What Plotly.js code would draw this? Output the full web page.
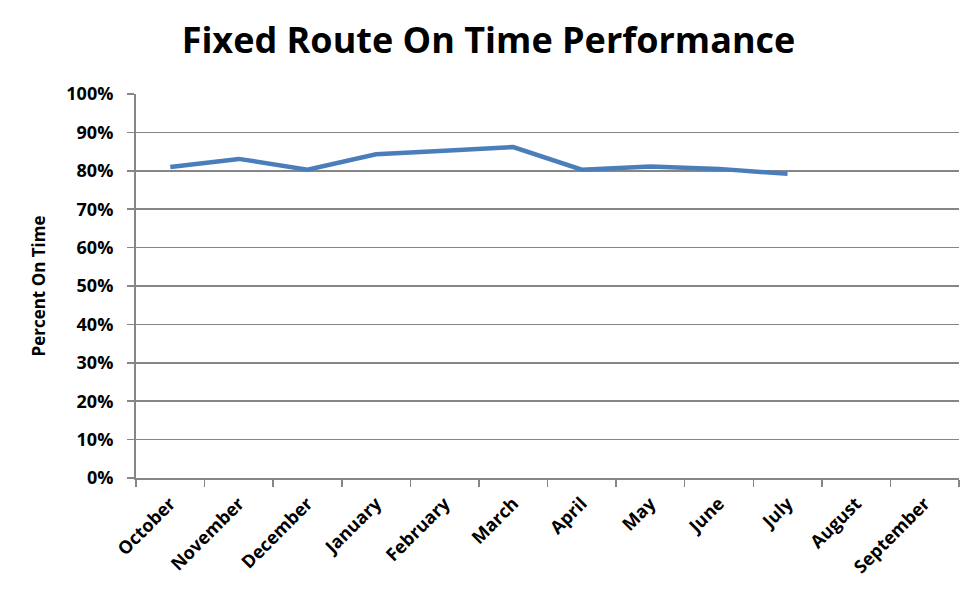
<!DOCTYPE html>
<html>
<head>
<meta charset="utf-8">
<script src="https://cdn.plot.ly/plotly-3.0.1.min.js"></script>
<style>
  html, body { margin: 0; padding: 0; background: #fff; }
  #chart { width: 977px; height: 599px; }
</style>
</head>
<body>
<div id="chart"></div>
<script>
// months of the fiscal year (Oct - Sep)
const months = ['October', 'November', 'December', 'January', 'February', 'March',
                'April', 'May', 'June', 'July', 'August', 'September'];
// percent on time (no data yet for Aug / Sep)
const onTime = [0.81, 0.831, 0.803, 0.843, 0.852, 0.862, 0.803, 0.811, 0.805, 0.792, null, null];
const yTicks = [0, 0.1, 0.2, 0.3, 0.4, 0.5, 0.6, 0.7, 0.8, 0.9, 1.0];

const font = 'Open Sans, Liberation Sans, sans-serif';
const grey = '#868686';

const data = [{
    x: months,
    y: onTime,
    type: 'scatter',
    mode: 'lines',
    line: { color: '#4a7ebb', width: 4.5 },
    connectgaps: false,
    hoverinfo: 'x+y'
}];

const layout = {
    width: 977,
    height: 599,
    margin: { l: 136, r: 18, t: 94, b: 121 },
    paper_bgcolor: '#fff',
    plot_bgcolor: '#fff',
    showlegend: false,
    title: {
        text: '<b>Fixed Route On Time Performance</b>',
        font: { family: font, size: 36, color: '#000' },
        x: 0.5, xanchor: 'center',
        y: 0.933, yanchor: 'middle'
    },
    xaxis: {
        type: 'category',
        categoryorder: 'array',
        categoryarray: months,
        range: [-0.5, months.length - 0.5],
        tickson: 'boundaries',
        ticks: 'outside',
        ticklen: 7,
        tickwidth: 1.5,
        tickcolor: grey,
        showline: true,
        linecolor: grey,
        linewidth: 2,
        showgrid: false,
        tickangle: -45,
        ticklabelstandoff: 6,
        tickfont: { family: font, size: 18, color: '#000', weight: 'bold' },
        fixedrange: true
    },
    yaxis: {
        range: [0, 1],
        tickvals: yTicks,
        tickformat: '.0%',
        ticks: 'outside',
        ticklen: 7,
        tickwidth: 1.5,
        tickcolor: grey,
        showline: true,
        linecolor: grey,
        linewidth: 2,
        showgrid: true,
        gridcolor: grey,
        gridwidth: 1.5,
        zeroline: false,
        ticklabelstandoff: 10,
        tickfont: { family: font, size: 18, color: '#000', weight: 'bold' },
        title: {
            text: '<b>Percent On Time</b>',
            font: { family: font, size: 17, color: '#000' },
            standoff: 16
        },
        fixedrange: true
    }
};

Plotly.newPlot('chart', data, layout, { displayModeBar: false, staticPlot: true });
</script>
</body>
</html>
